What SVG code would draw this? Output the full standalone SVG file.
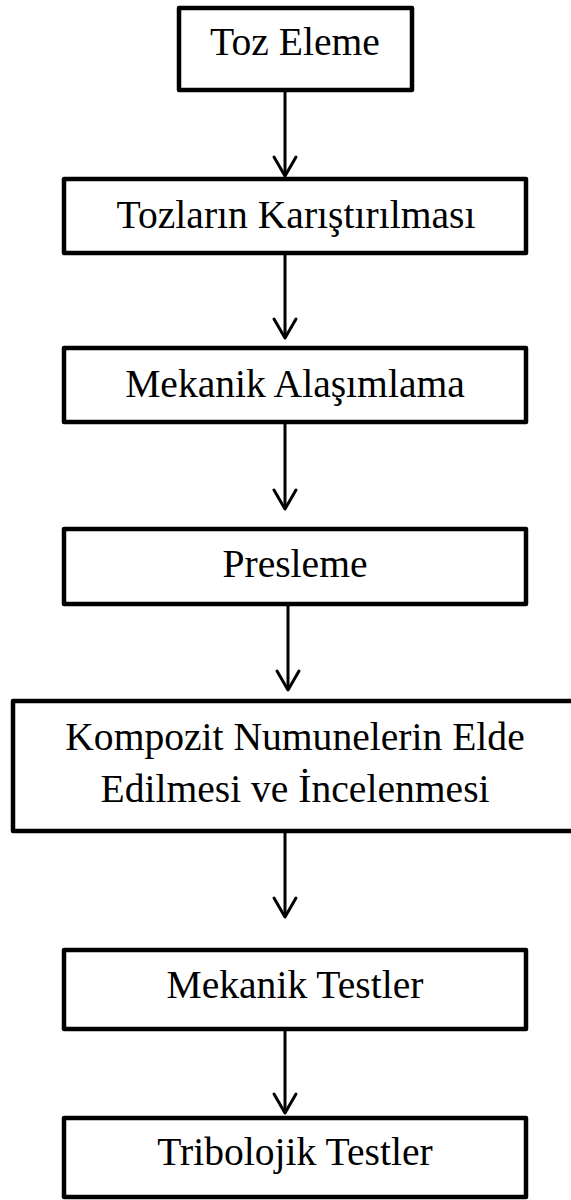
<svg xmlns="http://www.w3.org/2000/svg" width="571" height="1200" viewBox="0 0 571 1200">
  <defs>
    <style>
      .box { fill: #ffffff; stroke: #000000; stroke-width: 4.5; stroke-linejoin: round; }
      .lbl { font-family: "Liberation Serif", "Times New Roman", serif; font-size: 39.6px; fill: #000000; text-anchor: middle; }
      .wire { stroke: #000000; stroke-width: 3; fill: none; }
      .head { stroke: #000000; stroke-width: 3; fill: none; stroke-linecap: round; stroke-linejoin: round; }
    </style>
  </defs>
  <rect width="571" height="1200" fill="#ffffff"/>

  <g id="node-toz-eleme">
    <rect class="box" x="179" y="8" width="233" height="82"/>
    <text class="lbl" x="295" y="55">Toz Eleme</text>
  </g>

  <g id="node-karistirma">
    <rect class="box" x="64" y="179" width="462" height="74"/>
    <text class="lbl" x="296" y="228">Tozların Karıştırılması</text>
  </g>

  <g id="node-alasimlama">
    <rect class="box" x="64" y="348" width="462" height="74"/>
    <text class="lbl" x="295" y="397">Mekanik Alaşımlama</text>
  </g>

  <g id="node-presleme">
    <rect class="box" x="64" y="529" width="462" height="75"/>
    <text class="lbl" x="295" y="577">Presleme</text>
  </g>

  <g id="node-kompozit">
    <rect class="box" x="13" y="701" width="570" height="130"/>
    <text class="lbl" x="295" y="750">Kompozit Numunelerin Elde</text>
    <text class="lbl" x="295" y="802">Edilmesi ve İncelenmesi</text>
  </g>

  <g id="node-mekanik-testler">
    <rect class="box" x="64" y="950" width="462" height="79"/>
    <text class="lbl" x="295" y="998">Mekanik Testler</text>
  </g>

  <g id="node-tribolojik">
    <rect class="box" x="64" y="1118" width="462" height="79"/>
    <text class="lbl" x="295" y="1165">Tribolojik Testler</text>
  </g>

  <g id="connectors">
    <line class="wire" x1="285" y1="90" x2="285" y2="176"/>
    <polyline class="head" points="274,157 285,176 296,157"/>

    <line class="wire" x1="285" y1="253" x2="285" y2="338"/>
    <polyline class="head" points="274,319 285,338 296,319"/>

    <line class="wire" x1="285" y1="422" x2="285" y2="509"/>
    <polyline class="head" points="274,490 285,509 296,490"/>

    <line class="wire" x1="288" y1="604" x2="288" y2="690"/>
    <polyline class="head" points="277,671 288,690 299,671"/>

    <line class="wire" x1="285" y1="831" x2="285" y2="917"/>
    <polyline class="head" points="274,898 285,917 296,898"/>

    <line class="wire" x1="285" y1="1029" x2="285" y2="1113"/>
    <polyline class="head" points="274,1094 285,1113 296,1094"/>
  </g>
</svg>
